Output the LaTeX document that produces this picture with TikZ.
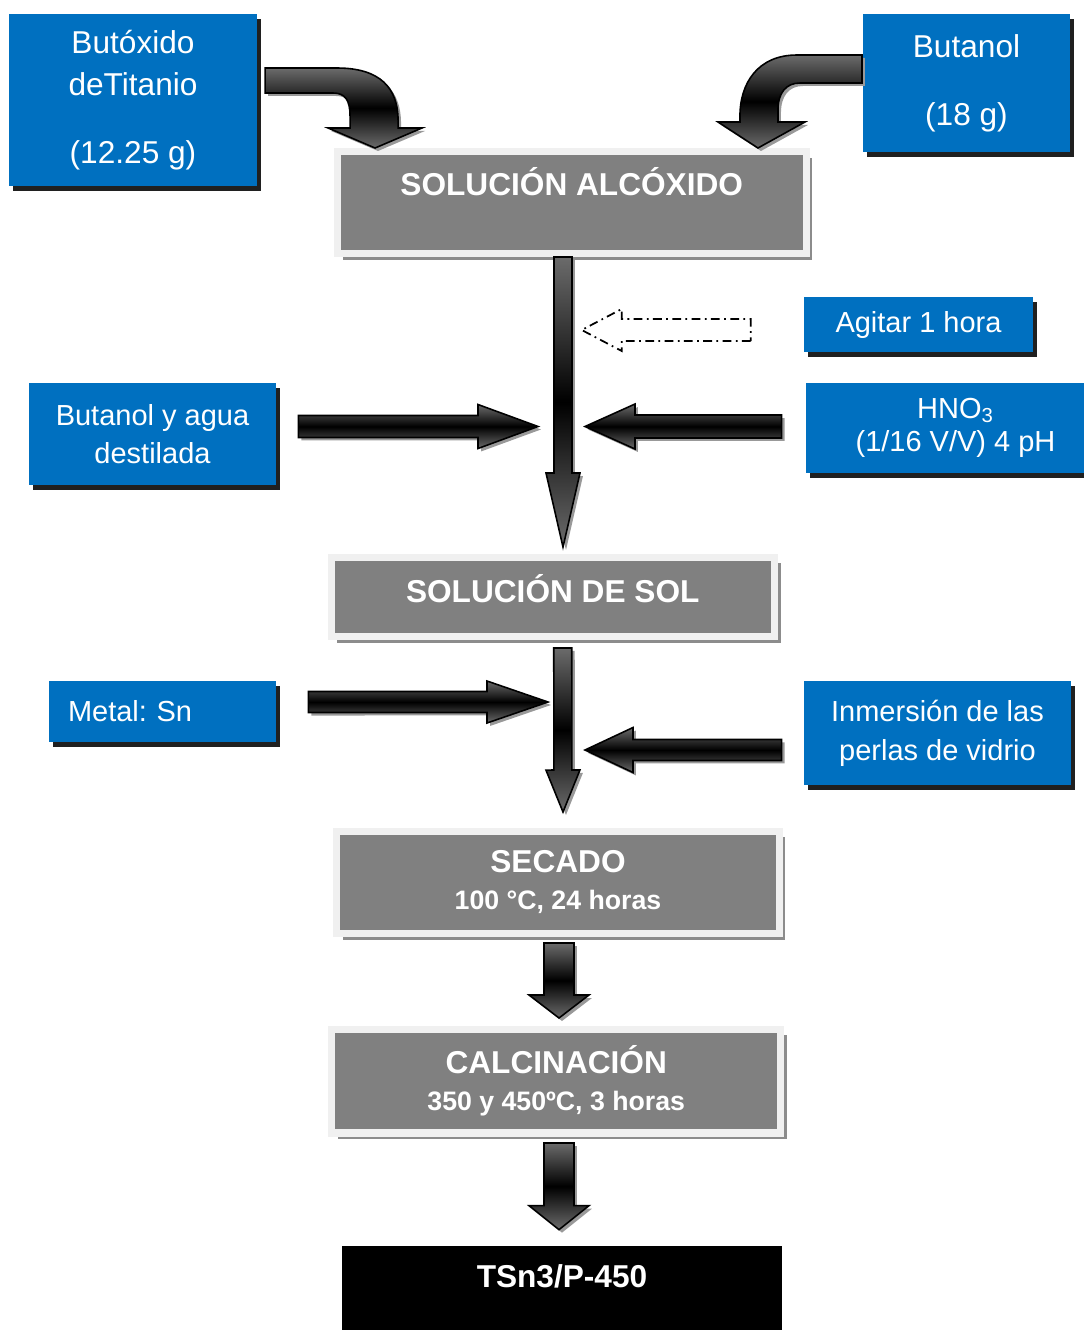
\documentclass[tikz,border=0pt]{standalone}
\usepackage{fontspec}
\setmainfont{Liberation Sans}
\setsansfont{Liberation Sans}
\usetikzlibrary{calc, shadows}
\definecolor{AzulCaja}{RGB}{0,112,192}
\definecolor{GrisCaja}{RGB}{128,128,128}
\definecolor{GrisMarco}{RGB}{240,240,240}
\definecolor{SombraAzul}{RGB}{32,32,32}

% flecha de bloque: estilo, inicio, punta, medio cuerpo, media cabeza, largo cabeza
\newcommand{\flecha}[6]{%
  \coordinate (ini) at #2;
  \coordinate (fin) at #3;
  \coordinate (base) at ($(fin)!#6!(ini)$);
  \path[#1] ($(ini)!#4!90:(fin)$) -- ($(base)!#4!90:(fin)$) -- ($(base)!#5!90:(fin)$) -- (fin)
    -- ($(base)!#5!-90:(fin)$) -- ($(base)!#4!-90:(fin)$) -- ($(ini)!#4!-90:(fin)$) -- cycle;
}

\begin{document}
\begin{tikzpicture}[
  x=0.02cm, y=-0.02cm,
  font=\sffamily,
  caja/.style={fill=AzulCaja, text=white, align=center, inner sep=0pt,
    font=\sffamily\fontsize{16.5pt}{22pt}\selectfont,
    drop shadow={shadow xshift=2.3pt, shadow yshift=-2.8pt, fill=SombraAzul, opacity=1}},
  reactivo/.style={caja, font=\sffamily\fontsize{18pt}{24pt}\selectfont},
  proceso/.style={fill=GrisCaja, draw=GrisMarco, line width=4pt, text=white, align=center,
    inner sep=0pt, font=\sffamily\bfseries\fontsize{18pt}{21pt}\selectfont,
    drop shadow={shadow xshift=3.5pt, shadow yshift=-3.5pt, fill=black!45, opacity=1}},
  resultado/.style={fill=black, text=white, align=center, inner sep=0pt,
    font=\sffamily\bfseries\fontsize{18pt}{21pt}\selectfont},
  bloque/.style={draw=black, line width=0.9pt, top color=black!58, bottom color=black!58,
    middle color=black, preaction={fill=black!40, transform canvas={xshift=1.7pt, yshift=-1.7pt}}},
  punteada/.style={draw=black, line width=1pt, dash pattern=on 5pt off 2.5pt on 1pt off 2.5pt},
]
\useasboundingbox (0,0) rectangle (1083,1330);

% --- Reactivos ---
\node[reactivo, minimum width=4.96cm, minimum height=3.44cm] (butox) at (133,100)
  {Butóxido\\deTitanio\\[14.7pt](12.25 g)};
\node[reactivo, minimum width=4.14cm, minimum height=2.76cm] (butanol) at (966.5,83)
  {Butanol\\[14.7pt](18 g)};
\node[caja, minimum width=4.58cm, minimum height=1.1cm] (agitar) at (918.5,324.5) {Agitar 1 hora};
\node[caja, minimum width=4.94cm, minimum height=2.04cm] (agua) at (152.5,434)
  {Butanol y agua\\destilada};
\node[caja, minimum width=5.98cm, minimum height=1.8cm] (hno) at (955.5,428)
  {HNO\textsubscript{3}\\[-3pt](1/16 V/V) 4 pH};
\node[caja, align=left, text width=3.78cm, inner xsep=0.38cm, minimum height=1.22cm] (metal)
  at (162.5,711.5) {Metal:\ Sn};
\node[caja, minimum width=5.34cm, minimum height=2.08cm] (inmersion) at (937.5,733)
  {Inmersión de las\\perlas de vidrio};

% --- Etapas ---
\node[proceso, minimum width=9.38cm, text height=0.87cm, text depth=1.17cm] (alcox)
  at (571.75,202.5) {SOLUCIÓN ALCÓXIDO};
\node[proceso, minimum width=8.87cm, text height=0.9cm, text depth=0.69cm] (sol)
  at (552.75,596.75) {SOLUCIÓN DE SOL};
\node[proceso, minimum width=8.85cm, minimum height=2.05cm] (secado) at (558,882.25)
  {SECADO\\{\fontsize{15.2pt}{21pt}\selectfont 100 °C, 24 horas}};
\node[proceso, minimum width=8.99cm, minimum height=2.08cm] (calcin) at (556.25,1081)
  {CALCINACIÓN\\{\fontsize{15.2pt}{21pt}\selectfont 350 y 450ºC, 3 horas}};
\node[resultado, minimum width=8.8cm, text height=0.82cm, text depth=0.94cm] (final)
  at (562,1290) {TSn3/P-450};

% --- Puntos de llegada ---
\coordinate (puntaA) at ([xshift=-3.935cm]alcox.north);
\coordinate (puntaB) at ([xshift=3.725cm]alcox.north);
\coordinate (puntaD) at ([xshift=-4.44cm,yshift=-0.11cm]agitar.west);
\coordinate (cruce1) at (563,426.5);
\coordinate (cruce2) at (563,702);
\coordinate (cruce3) at (563,750);

% --- Flechas curvas ---
\path[bloque, shift={(puntaA)}] (-110,-80) -- (-38,-80) .. controls (5,-80) and (23,-60) .. (23,-28)
  -- (23,-20) -- (47,-20) -- (0,0) -- (-47,-20) -- (-25,-20) -- (-25,-32)
  .. controls (-25,-48) and (-30,-55) .. (-42,-55) -- (-110,-55) -- cycle;
\path[bloque, shift={(puntaB)}] (104,-93) -- (39,-93) .. controls (0,-93) and (-18,-65) .. (-18,-32)
  -- (-18,-26) -- (-40,-26) -- (0,0) -- (47,-26) -- (20,-26) -- (20,-38)
  .. controls (20,-55) and (28,-65) .. (42,-65) -- (104,-65) -- cycle;

% --- Flechas rectas ---
\flecha{bloque}{([xshift=-0.175cm]alcox.south)}{([xshift=0.205cm,yshift=0.13cm]sol.north)}{0.18cm}{0.34cm}{1.48cm}
\flecha{punteada}{([xshift=-1.06cm,yshift=-0.11cm]agitar.west)}{(puntaD)}{0.22cm}{0.42cm}{0.8cm}
\flecha{bloque}{([xshift=0.44cm,yshift=0.15cm]agua.east)}{([xshift=-0.5cm]cruce1)}{0.22cm}{0.44cm}{1.2cm}
\flecha{bloque}{([xshift=-0.48cm,yshift=0.03cm]hno.west)}{([xshift=0.44cm]cruce1)}{0.23cm}{0.45cm}{1.0cm}
\flecha{bloque}{([xshift=0.2cm,yshift=-0.16cm]sol.south)}{([xshift=0.1cm,yshift=0.31cm]secado.north)}{0.18cm}{0.34cm}{0.84cm}
\flecha{bloque}{([xshift=0.64cm,yshift=0.19cm]metal.east)}{([xshift=-0.3cm]cruce2)}{0.21cm}{0.42cm}{1.22cm}
\flecha{bloque}{([xshift=-0.44cm,yshift=-0.34cm]inmersion.west)}{([xshift=0.44cm]cruce3)}{0.21cm}{0.45cm}{0.96cm}
\flecha{bloque}{([xshift=0.02cm,yshift=-0.12cm]secado.south)}{([xshift=0.055cm,yshift=0.15cm]calcin.north)}{0.3cm}{0.6cm}{0.46cm}
\flecha{bloque}{([xshift=0.055cm,yshift=-0.13cm]calcin.south)}{([xshift=-0.06cm,yshift=0.32cm]final.north)}{0.3cm}{0.6cm}{0.48cm}

\end{tikzpicture}
\end{document}
